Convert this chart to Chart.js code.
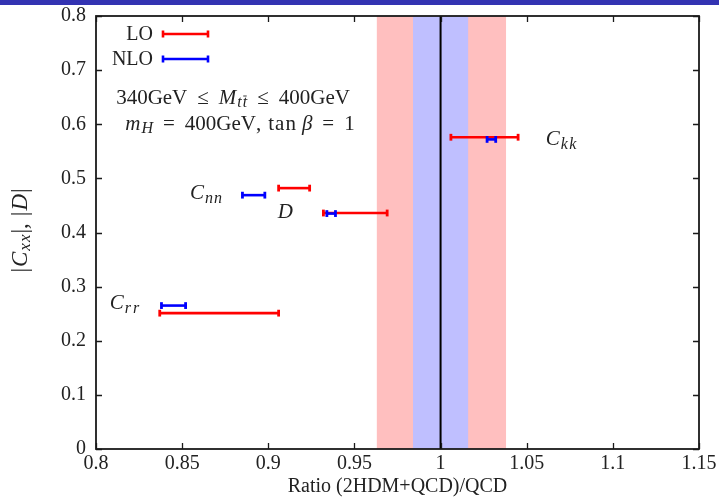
<!DOCTYPE html>
<html>
<head>
<meta charset="utf-8">
<script src="https://cdn.jsdelivr.net/npm/chart.js@4.4.1/dist/chart.umd.min.js"></script>
<style>
    html, body { margin: 0; padding: 0; background: #fff; }
    #c { display: block; }
</style>
</head>
<body>
<canvas id="c" width="719" height="499"></canvas>
<script>
// Observables, top to bottom
const observables = ['Ckk', 'Cnn', 'D', 'Crr'];

// LO ratio ranges and values
const loLow = [1.006, 0.906, 0.932, 0.837];
const loHigh = [1.045, 0.924, 0.969, 0.906];
const loValue = [0.576, 0.482, 0.436, 0.251];

// NLO ratio ranges and values
const nloLow = [1.027, 0.885, 0.934, 0.838];
const nloHigh = [1.032, 0.898, 0.939, 0.852];
const nloValue = [0.572, 0.469, 0.435, 0.265];

// QCD scale uncertainty bands around ratio = 1
const bandLO = [0.963, 1.038];
const bandNLO = [0.984, 1.016];
const referenceRatio = 1;

// Axis ranges
const xRange = [0.8, 1.15];
const yRange = [0, 0.8];

const SERIF = '"Liberation Serif", "DejaVu Serif", serif';
const FS = 20;
const RED = '#ff0000';
const BLUE = '#0000ff';

// label anchors (data coordinates) for each observable
const labelAnchors = {
    Ckk: { x: 1.061, y: 0.572, segs: [{ t: 'C', i: 1, gap: 1 }, { t: 'kk', i: 1, sub: 1, ls: 1.5 }] },
    Cnn: { x: 0.8545, y: 0.472, segs: [{ t: 'C', i: 1, gap: 1 }, { t: 'nn', i: 1, sub: 1, ls: 1 }] },
    D:   { x: 0.9055, y: 0.437, segs: [{ t: 'D', i: 1 }] },
    Crr: { x: 0.808, y: 0.269, segs: [{ t: 'C', i: 1, gap: 1 }, { t: 'rr', i: 1, sub: 1, ls: 2 }] }
};

/**
 * Draw a run of text segments (italic / subscript / overbar) starting at x
 */
function segFont(s) {
    const size = s.size || (s.sub ? 16 : 21);
    return (s.i ? 'italic ' : '') + size + 'px ' + SERIF;
}

function segWidth(ctx, s) {
    ctx.font = segFont(s);
    let w = 0;
    for (const ch of s.t) w += ctx.measureText(ch).width;
    return w + (s.ls || 0) * (s.t.length - 1) + (s.gap || 0);
}

function drawRich(ctx, segs, x, y, align) {
    const total = segs.reduce((w, s) => w + segWidth(ctx, s), 0);
    let cx = align === 'center' ? x - total / 2 : (align === 'right' ? x - total : x);
    ctx.textBaseline = 'middle';
    ctx.textAlign = 'left';
    segs.forEach(s => {
        ctx.font = segFont(s);
        const dy = s.sub ? 5 : 0;
        let gx = cx;
        for (const ch of s.t) {
            ctx.fillText(ch, gx, y + dy);
            gx += ctx.measureText(ch).width + (s.ls || 0);
        }
        if (s.bar) {
            // overbar on the last glyph
            const last = ctx.measureText(s.t.slice(-1)).width;
            const end = gx - (s.ls || 0);
            ctx.save();
            ctx.strokeStyle = ctx.fillStyle;
            ctx.lineWidth = 0.9;
            ctx.beginPath();
            ctx.moveTo(end - last + 0.5, y + dy - 7);
            ctx.lineTo(end - 0.5, y + dy - 7);
            ctx.stroke();
            ctx.restore();
        }
        cx += segWidth(ctx, s);
    });
}

function errorBar(low, high, y, color, order) {
    return {
        type: 'line',
        data: [{ x: low, y: y }, { x: high, y: y }],
        borderColor: color,
        borderWidth: 2.6,
        pointStyle: 'line',
        rotation: 90,
        pointRadius: 3.4,
        pointBorderWidth: 2.8,
        pointBorderColor: color,
        pointHoverRadius: 3.4,
        order: order
    };
}

const datasets = [];
observables.forEach((name, i) => {
    datasets.push(errorBar(nloLow[i], nloHigh[i], nloValue[i], BLUE, 1));
    datasets.push(errorBar(loLow[i], loHigh[i], loValue[i], RED, 2));
});
datasets.push({
    type: 'line',
    data: [{ x: referenceRatio, y: yRange[0] }, { x: referenceRatio, y: yRange[1] }],
    borderColor: '#000',
    borderWidth: 2,
    pointRadius: 0,
    order: 3
});

// Background: header strip and uncertainty bands
const backdrop = {
    id: 'backdrop',
    beforeDraw(chart) {
        const ctx = chart.ctx;
        ctx.save();
        ctx.fillStyle = '#fff';
        ctx.fillRect(0, 0, chart.width, chart.height);
        ctx.fillStyle = '#3333b2';
        ctx.fillRect(0, 0, chart.width, 5);
        ctx.restore();
    },
    beforeDatasetsDraw(chart) {
        const { ctx, chartArea: a, scales: { x } } = chart;
        ctx.save();
        ctx.fillStyle = '#ffbfbf';
        ctx.fillRect(x.getPixelForValue(bandLO[0]), a.top, x.getPixelForValue(bandLO[1]) - x.getPixelForValue(bandLO[0]), a.bottom - a.top);
        ctx.fillStyle = '#bfbfff';
        ctx.fillRect(x.getPixelForValue(bandNLO[0]), a.top, x.getPixelForValue(bandNLO[1]) - x.getPixelForValue(bandNLO[0]), a.bottom - a.top);
        ctx.restore();
    }
};

// Frame, inward ticks on all sides, legend and text annotations
const overlay = {
    id: 'overlay',
    afterDraw(chart) {
        const { ctx, chartArea: a, scales: { x, y } } = chart;
        ctx.save();
        ctx.strokeStyle = '#1a1a1a';
        ctx.lineWidth = 1.3;
        const tl = 6;
        ctx.beginPath();
        x.ticks.forEach(t => {
            const px = Math.round(x.getPixelForValue(t.value)) + 0.5;
            ctx.moveTo(px, a.bottom); ctx.lineTo(px, a.bottom - tl);
            ctx.moveTo(px, a.top); ctx.lineTo(px, a.top + tl);
        });
        y.ticks.forEach(t => {
            const py = Math.round(y.getPixelForValue(t.value)) + 0.5;
            ctx.moveTo(a.left, py); ctx.lineTo(a.left + tl, py);
            ctx.moveTo(a.right, py); ctx.lineTo(a.right - tl, py);
        });
        ctx.stroke();
        ctx.lineWidth = 1.8;
        ctx.strokeRect(a.left, a.top, a.right - a.left, a.bottom - a.top);

        ctx.fillStyle = '#222';

        // legend
        const legendRows = [['LO', RED, 18], ['NLO', BLUE, 43]];
        legendRows.forEach(([label, color, dy]) => {
            ctx.font = FS + 'px ' + SERIF;
            ctx.textAlign = 'right';
            ctx.textBaseline = 'middle';
            ctx.fillText(label, a.left + 57, a.top + dy + 1);
            const x0 = a.left + 67, x1 = a.left + 112, yy = a.top + dy;
            ctx.strokeStyle = color;
            ctx.lineWidth = 2.6;
            ctx.beginPath();
            ctx.moveTo(x0, yy); ctx.lineTo(x1, yy);
            ctx.moveTo(x0, yy - 3.4); ctx.lineTo(x0, yy + 3.4);
            ctx.moveTo(x1, yy - 3.4); ctx.lineTo(x1, yy + 3.4);
            ctx.stroke();
        });

        // kinematic cut and model parameters
        drawRich(ctx, [
            { t: '340GeV', size: 21, gap: 10 }, { t: '\u2264', size: 21, gap: 10 }, { t: 'M', i: 1, size: 21, gap: 1 },
            { t: 'tt', i: 1, sub: 1, bar: 1, ls: 1, gap: 10 }, { t: '\u2264', size: 21, gap: 10 }, { t: '400GeV', size: 21 }
        ], 233, a.top + 82, 'center');
        drawRich(ctx, [
            { t: 'm', i: 1, size: 21, gap: 1 }, { t: 'H', i: 1, sub: 1, gap: 10 }, { t: '=', size: 21, gap: 10 },
            { t: '400GeV,', size: 21, gap: 7 }, { t: 'tan', size: 21, ls: 1, gap: 6 },
            { t: '\u03b2', i: 1, size: 21, gap: 10 }, { t: '=', size: 21, gap: 10 }, { t: '1', size: 21 }
        ], 240, a.top + 108, 'center');

        // observable labels
        observables.forEach(name => {
            const l = labelAnchors[name];
            drawRich(ctx, l.segs, x.getPixelForValue(l.x), y.getPixelForValue(l.y), 'left');
        });

        // vertical axis title
        ctx.translate(21, (a.top + a.bottom) / 2 - 2);
        ctx.rotate(-Math.PI / 2);
        drawRich(ctx, [
            { t: '|', size: 23, gap: 1 }, { t: 'C', i: 1, size: 23, gap: 1 }, { t: 'xx', i: 1, size: 17, sub: 1, ls: 1, gap: 1 },
            { t: '|,', size: 23, gap: 7 }, { t: '|', size: 23, gap: 1 }, { t: 'D', i: 1, size: 23, gap: 1 }, { t: '|', size: 23 }
        ], 0, 0, 'center');
        ctx.restore();
    }
};

new Chart(document.getElementById('c'), {
    type: 'scatter',
    data: { datasets: datasets },
    options: {
        responsive: false,
        devicePixelRatio: 1,
        animation: false,
        events: [],
        layout: { padding: { top: 16, right: 20, left: 0, bottom: 0 } },
        plugins: { legend: { display: false }, tooltip: { enabled: false } },
        scales: {
            x: {
                type: 'linear',
                min: xRange[0],
                max: xRange[1],
                grid: { display: false, drawTicks: true, tickLength: 3 },
                border: { display: false },
                ticks: {
                    stepSize: 0.05,
                    padding: 0,
                    color: '#222',
                    font: { family: SERIF, size: FS },
                    maxRotation: 0,
                    callback: v => String(+v.toFixed(2))
                },
                title: {
                    display: true,
                    text: 'Ratio (2HDM+QCD)/QCD',
                    color: '#222',
                    font: { family: SERIF, size: FS },
                    padding: { top: 0, bottom: 0 }
                },
                afterFit(scale) { scale.height = 50; }
            },
            y: {
                type: 'linear',
                min: yRange[0],
                max: yRange[1],
                grid: { display: false, drawTicks: true, tickLength: 10 },
                border: { display: false },
                ticks: {
                    stepSize: 0.1,
                    padding: 0,
                    color: '#222',
                    font: { family: SERIF, size: FS },
                    callback: v => String(+v.toFixed(1))
                },
                afterFit(scale) { scale.width = 96; }
            }
        }
    },
    plugins: [backdrop, overlay]
});
</script>
</body>
</html>
